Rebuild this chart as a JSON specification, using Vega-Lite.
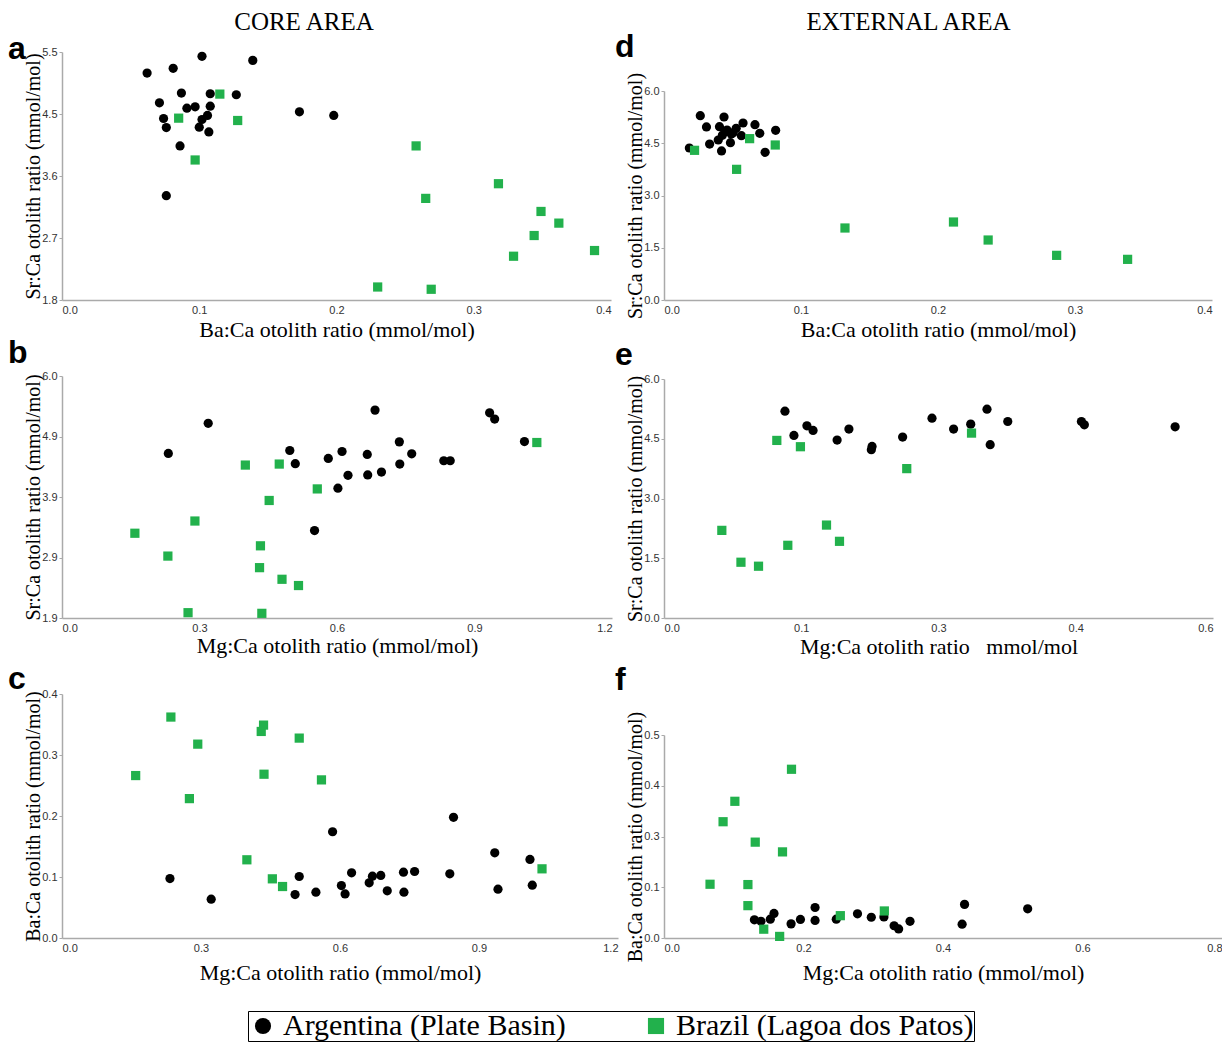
{
  "$schema": "https://vega.github.io/schema/vega-lite/v6.json",
  "usermeta": {"embedOptions": {"actions": false}},
  "padding": {"left": 8, "top": 10, "right": 0, "bottom": 0},
  "background": "white",
  "config": {
    "view": {"stroke": null},
    "axis": {
      "grid": false,
      "domainColor": "#aaaaaa",
      "domainWidth": 1.5,
      "tickColor": "#aaaaaa",
      "tickSize": 3,
      "labelFont": "Liberation Sans",
      "labelFontSize": 11,
      "labelColor": "#333333",
      "labelPadding": 2,
      "titleFont": "Liberation Serif",
      "titleFontWeight": "normal",
      "titleColor": "black"
    },
    "axisX": {"ticks": false, "labelPadding": 4, "titleFontSize": 22},
    "axisY": {"titlePadding": -2, "titleFontSize": 20},
    "title": {"font": "Liberation Sans", "fontSize": 32, "fontWeight": "bold", "color": "black", "anchor": "start", "frame": "group"},
    "legend": {
      "orient": "none",
      "legendX": 186,
      "legendY": 959,
      "direction": "horizontal",
      "title": null,
      "strokeColor": "black",
      "strokeWidth": 1,
      "padding": 0,
      "labelFont": "Liberation Serif",
      "labelFontSize": 30,
      "labelColor": "black",
      "labelLimit": 600,
      "labelOffset": 5,
      "symbolSize": 260,
      "symbolStrokeWidth": 0,
      "columnPadding": 75
    }
  },
  "datasets": {
    "a": [
      {"x":0.062,"y":5.186,"g":"Argentina (Plate Basin)"},{"x":0.081,"y":5.256,"g":"Argentina (Plate Basin)"},{"x":0.102,"y":5.435,"g":"Argentina (Plate Basin)"},{"x":0.139,"y":5.375,"g":"Argentina (Plate Basin)"},{"x":0.087,"y":4.887,"g":"Argentina (Plate Basin)"},{"x":0.108,"y":4.877,"g":"Argentina (Plate Basin)"},{"x":0.127,"y":4.862,"g":"Argentina (Plate Basin)"},{"x":0.071,"y":4.742,"g":"Argentina (Plate Basin)"},{"x":0.091,"y":4.662,"g":"Argentina (Plate Basin)"},{"x":0.097,"y":4.682,"g":"Argentina (Plate Basin)"},{"x":0.108,"y":4.692,"g":"Argentina (Plate Basin)"},{"x":0.074,"y":4.508,"g":"Argentina (Plate Basin)"},{"x":0.106,"y":4.553,"g":"Argentina (Plate Basin)"},{"x":0.102,"y":4.493,"g":"Argentina (Plate Basin)"},{"x":0.076,"y":4.373,"g":"Argentina (Plate Basin)"},{"x":0.100,"y":4.378,"g":"Argentina (Plate Basin)"},{"x":0.107,"y":4.308,"g":"Argentina (Plate Basin)"},{"x":0.086,"y":4.099,"g":"Argentina (Plate Basin)"},{"x":0.173,"y":4.607,"g":"Argentina (Plate Basin)"},{"x":0.198,"y":4.553,"g":"Argentina (Plate Basin)"},{"x":0.076,"y":3.356,"g":"Argentina (Plate Basin)"},
      {"x":0.085,"y":4.513,"g":"Brazil (Lagoa dos Patos)"},{"x":0.115,"y":4.872,"g":"Brazil (Lagoa dos Patos)"},{"x":0.128,"y":4.478,"g":"Brazil (Lagoa dos Patos)"},{"x":0.097,"y":3.889,"g":"Brazil (Lagoa dos Patos)"},{"x":0.258,"y":4.099,"g":"Brazil (Lagoa dos Patos)"},{"x":0.318,"y":3.535,"g":"Brazil (Lagoa dos Patos)"},{"x":0.265,"y":3.316,"g":"Brazil (Lagoa dos Patos)"},{"x":0.349,"y":3.121,"g":"Brazil (Lagoa dos Patos)"},{"x":0.362,"y":2.947,"g":"Brazil (Lagoa dos Patos)"},{"x":0.344,"y":2.762,"g":"Brazil (Lagoa dos Patos)"},{"x":0.388,"y":2.538,"g":"Brazil (Lagoa dos Patos)"},{"x":0.329,"y":2.453,"g":"Brazil (Lagoa dos Patos)"},{"x":0.230,"y":1.994,"g":"Brazil (Lagoa dos Patos)"},{"x":0.269,"y":1.960,"g":"Brazil (Lagoa dos Patos)"}
    ],
    "b": [
      {"x":0.232,"y":4.688,"g":"Argentina (Plate Basin)"},{"x":0.319,"y":5.198,"g":"Argentina (Plate Basin)"},{"x":0.683,"y":5.422,"g":"Argentina (Plate Basin)"},{"x":0.933,"y":5.377,"g":"Argentina (Plate Basin)"},{"x":0.944,"y":5.271,"g":"Argentina (Plate Basin)"},{"x":1.009,"y":4.889,"g":"Argentina (Plate Basin)"},{"x":0.736,"y":4.884,"g":"Argentina (Plate Basin)"},{"x":0.497,"y":4.738,"g":"Argentina (Plate Basin)"},{"x":0.611,"y":4.721,"g":"Argentina (Plate Basin)"},{"x":0.666,"y":4.671,"g":"Argentina (Plate Basin)"},{"x":0.763,"y":4.682,"g":"Argentina (Plate Basin)"},{"x":0.581,"y":4.603,"g":"Argentina (Plate Basin)"},{"x":0.509,"y":4.514,"g":"Argentina (Plate Basin)"},{"x":0.737,"y":4.508,"g":"Argentina (Plate Basin)"},{"x":0.833,"y":4.564,"g":"Argentina (Plate Basin)"},{"x":0.847,"y":4.564,"g":"Argentina (Plate Basin)"},{"x":0.624,"y":4.317,"g":"Argentina (Plate Basin)"},{"x":0.667,"y":4.323,"g":"Argentina (Plate Basin)"},{"x":0.697,"y":4.373,"g":"Argentina (Plate Basin)"},{"x":0.602,"y":4.099,"g":"Argentina (Plate Basin)"},{"x":0.551,"y":3.381,"g":"Argentina (Plate Basin)"},
      {"x":0.400,"y":4.491,"g":"Brazil (Lagoa dos Patos)"},{"x":0.474,"y":4.508,"g":"Brazil (Lagoa dos Patos)"},{"x":0.557,"y":4.087,"g":"Brazil (Lagoa dos Patos)"},{"x":0.452,"y":3.891,"g":"Brazil (Lagoa dos Patos)"},{"x":0.290,"y":3.543,"g":"Brazil (Lagoa dos Patos)"},{"x":0.159,"y":3.336,"g":"Brazil (Lagoa dos Patos)"},{"x":0.433,"y":3.123,"g":"Brazil (Lagoa dos Patos)"},{"x":0.231,"y":2.949,"g":"Brazil (Lagoa dos Patos)"},{"x":0.431,"y":2.753,"g":"Brazil (Lagoa dos Patos)"},{"x":0.480,"y":2.556,"g":"Brazil (Lagoa dos Patos)"},{"x":0.516,"y":2.450,"g":"Brazil (Lagoa dos Patos)"},{"x":0.275,"y":1.990,"g":"Brazil (Lagoa dos Patos)"},{"x":0.436,"y":1.979,"g":"Brazil (Lagoa dos Patos)"},{"x":1.036,"y":4.873,"g":"Brazil (Lagoa dos Patos)"}
    ],
    "c": [
      {"x":0.233,"y":0.0975,"g":"Argentina (Plate Basin)"},{"x":0.322,"y":0.0636,"g":"Argentina (Plate Basin)"},{"x":0.503,"y":0.0712,"g":"Argentina (Plate Basin)"},{"x":0.512,"y":0.1008,"g":"Argentina (Plate Basin)"},{"x":0.548,"y":0.0751,"g":"Argentina (Plate Basin)"},{"x":0.584,"y":0.1742,"g":"Argentina (Plate Basin)"},{"x":0.603,"y":0.086,"g":"Argentina (Plate Basin)"},{"x":0.611,"y":0.0723,"g":"Argentina (Plate Basin)"},{"x":0.625,"y":0.1068,"g":"Argentina (Plate Basin)"},{"x":0.663,"y":0.0904,"g":"Argentina (Plate Basin)"},{"x":0.670,"y":0.1014,"g":"Argentina (Plate Basin)"},{"x":0.688,"y":0.1025,"g":"Argentina (Plate Basin)"},{"x":0.702,"y":0.0773,"g":"Argentina (Plate Basin)"},{"x":0.737,"y":0.1079,"g":"Argentina (Plate Basin)"},{"x":0.738,"y":0.0751,"g":"Argentina (Plate Basin)"},{"x":0.761,"y":0.109,"g":"Argentina (Plate Basin)"},{"x":0.837,"y":0.1052,"g":"Argentina (Plate Basin)"},{"x":0.845,"y":0.1978,"g":"Argentina (Plate Basin)"},{"x":0.934,"y":0.1397,"g":"Argentina (Plate Basin)"},{"x":0.941,"y":0.08,"g":"Argentina (Plate Basin)"},{"x":1.010,"y":0.1288,"g":"Argentina (Plate Basin)"},{"x":1.015,"y":0.0866,"g":"Argentina (Plate Basin)"},
      {"x":0.159,"y":0.2663,"g":"Brazil (Lagoa dos Patos)"},{"x":0.235,"y":0.3622,"g":"Brazil (Lagoa dos Patos)"},{"x":0.293,"y":0.3178,"g":"Brazil (Lagoa dos Patos)"},{"x":0.275,"y":0.2285,"g":"Brazil (Lagoa dos Patos)"},{"x":0.430,"y":0.3386,"g":"Brazil (Lagoa dos Patos)"},{"x":0.435,"y":0.349,"g":"Brazil (Lagoa dos Patos)"},{"x":0.436,"y":0.2685,"g":"Brazil (Lagoa dos Patos)"},{"x":0.512,"y":0.3277,"g":"Brazil (Lagoa dos Patos)"},{"x":0.560,"y":0.2592,"g":"Brazil (Lagoa dos Patos)"},{"x":0.399,"y":0.1282,"g":"Brazil (Lagoa dos Patos)"},{"x":0.454,"y":0.097,"g":"Brazil (Lagoa dos Patos)"},{"x":0.476,"y":0.0844,"g":"Brazil (Lagoa dos Patos)"},{"x":1.036,"y":0.1134,"g":"Brazil (Lagoa dos Patos)"}
    ],
    "d": [
      {"x":0.0185,"y":4.364,"g":"Argentina (Plate Basin)"},{"x":0.0265,"y":5.292,"g":"Argentina (Plate Basin)"},{"x":0.031,"y":4.967,"g":"Argentina (Plate Basin)"},{"x":0.0333,"y":4.478,"g":"Argentina (Plate Basin)"},{"x":0.0405,"y":4.976,"g":"Argentina (Plate Basin)"},{"x":0.0438,"y":5.254,"g":"Argentina (Plate Basin)"},{"x":0.0396,"y":4.593,"g":"Argentina (Plate Basin)"},{"x":0.042,"y":4.278,"g":"Argentina (Plate Basin)"},{"x":0.0426,"y":4.727,"g":"Argentina (Plate Basin)"},{"x":0.0449,"y":4.842,"g":"Argentina (Plate Basin)"},{"x":0.0485,"y":4.517,"g":"Argentina (Plate Basin)"},{"x":0.0491,"y":4.766,"g":"Argentina (Plate Basin)"},{"x":0.0527,"y":4.928,"g":"Argentina (Plate Basin)"},{"x":0.0565,"y":4.718,"g":"Argentina (Plate Basin)"},{"x":0.0577,"y":5.081,"g":"Argentina (Plate Basin)"},{"x":0.0664,"y":5.033,"g":"Argentina (Plate Basin)"},{"x":0.0699,"y":4.785,"g":"Argentina (Plate Basin)"},{"x":0.0738,"y":4.239,"g":"Argentina (Plate Basin)"},{"x":0.0815,"y":4.871,"g":"Argentina (Plate Basin)"},{"x":0.046,"y":4.88,"g":"Argentina (Plate Basin)"},{"x":0.0505,"y":4.80,"g":"Argentina (Plate Basin)"},
      {"x":0.0223,"y":4.297,"g":"Brazil (Lagoa dos Patos)"},{"x":0.0625,"y":4.632,"g":"Brazil (Lagoa dos Patos)"},{"x":0.0812,"y":4.45,"g":"Brazil (Lagoa dos Patos)"},{"x":0.053,"y":3.751,"g":"Brazil (Lagoa dos Patos)"},{"x":0.1321,"y":2.067,"g":"Brazil (Lagoa dos Patos)"},{"x":0.2113,"y":2.239,"g":"Brazil (Lagoa dos Patos)"},{"x":0.2366,"y":1.722,"g":"Brazil (Lagoa dos Patos)"},{"x":0.2866,"y":1.282,"g":"Brazil (Lagoa dos Patos)"},{"x":0.3384,"y":1.167,"g":"Brazil (Lagoa dos Patos)"}
    ],
    "e": [
      {"x":0.1322,"y":5.192,"g":"Argentina (Plate Basin)"},{"x":0.142,"y":4.583,"g":"Argentina (Plate Basin)"},{"x":0.1562,"y":4.825,"g":"Argentina (Plate Basin)"},{"x":0.1629,"y":4.708,"g":"Argentina (Plate Basin)"},{"x":0.1892,"y":4.467,"g":"Argentina (Plate Basin)"},{"x":0.2021,"y":4.742,"g":"Argentina (Plate Basin)"},{"x":0.2266,"y":4.225,"g":"Argentina (Plate Basin)"},{"x":0.2274,"y":4.308,"g":"Argentina (Plate Basin)"},{"x":0.2608,"y":4.542,"g":"Argentina (Plate Basin)"},{"x":0.2929,"y":5.017,"g":"Argentina (Plate Basin)"},{"x":0.3165,"y":4.742,"g":"Argentina (Plate Basin)"},{"x":0.3352,"y":4.867,"g":"Argentina (Plate Basin)"},{"x":0.353,"y":5.242,"g":"Argentina (Plate Basin)"},{"x":0.3565,"y":4.35,"g":"Argentina (Plate Basin)"},{"x":0.3757,"y":4.933,"g":"Argentina (Plate Basin)"},{"x":0.4562,"y":4.933,"g":"Argentina (Plate Basin)"},{"x":0.4594,"y":4.85,"g":"Argentina (Plate Basin)"},{"x":0.5586,"y":4.8,"g":"Argentina (Plate Basin)"},
      {"x":0.1233,"y":4.458,"g":"Brazil (Lagoa dos Patos)"},{"x":0.1491,"y":4.3,"g":"Brazil (Lagoa dos Patos)"},{"x":0.2653,"y":3.75,"g":"Brazil (Lagoa dos Patos)"},{"x":0.3361,"y":4.642,"g":"Brazil (Lagoa dos Patos)"},{"x":0.0632,"y":2.2,"g":"Brazil (Lagoa dos Patos)"},{"x":0.0841,"y":1.4,"g":"Brazil (Lagoa dos Patos)"},{"x":0.1033,"y":1.3,"g":"Brazil (Lagoa dos Patos)"},{"x":0.1353,"y":1.825,"g":"Brazil (Lagoa dos Patos)"},{"x":0.1776,"y":2.333,"g":"Brazil (Lagoa dos Patos)"},{"x":0.1918,"y":1.925,"g":"Brazil (Lagoa dos Patos)"}
    ],
    "f": [
      {"x":0.1296,"y":0.0449,"g":"Argentina (Plate Basin)"},{"x":0.139,"y":0.041,"g":"Argentina (Plate Basin)"},{"x":0.1524,"y":0.0464,"g":"Argentina (Plate Basin)"},{"x":0.1577,"y":0.0604,"g":"Argentina (Plate Basin)"},{"x":0.1822,"y":0.0348,"g":"Argentina (Plate Basin)"},{"x":0.1956,"y":0.0457,"g":"Argentina (Plate Basin)"},{"x":0.2166,"y":0.0751,"g":"Argentina (Plate Basin)"},{"x":0.2166,"y":0.0433,"g":"Argentina (Plate Basin)"},{"x":0.247,"y":0.0464,"g":"Argentina (Plate Basin)"},{"x":0.2774,"y":0.0596,"g":"Argentina (Plate Basin)"},{"x":0.2972,"y":0.0511,"g":"Argentina (Plate Basin)"},{"x":0.3153,"y":0.0519,"g":"Argentina (Plate Basin)"},{"x":0.3299,"y":0.0302,"g":"Argentina (Plate Basin)"},{"x":0.3364,"y":0.0224,"g":"Argentina (Plate Basin)"},{"x":0.3527,"y":0.041,"g":"Argentina (Plate Basin)"},{"x":0.4274,"y":0.0341,"g":"Argentina (Plate Basin)"},{"x":0.4309,"y":0.0828,"g":"Argentina (Plate Basin)"},{"x":0.5214,"y":0.072,"g":"Argentina (Plate Basin)"},
      {"x":0.1828,"y":0.4156,"g":"Brazil (Lagoa dos Patos)"},{"x":0.1016,"y":0.3367,"g":"Brazil (Lagoa dos Patos)"},{"x":0.0847,"y":0.2864,"g":"Brazil (Lagoa dos Patos)"},{"x":0.1308,"y":0.2361,"g":"Brazil (Lagoa dos Patos)"},{"x":0.1699,"y":0.2121,"g":"Brazil (Lagoa dos Patos)"},{"x":0.066,"y":0.1324,"g":"Brazil (Lagoa dos Patos)"},{"x":0.1203,"y":0.1316,"g":"Brazil (Lagoa dos Patos)"},{"x":0.1203,"y":0.0797,"g":"Brazil (Lagoa dos Patos)"},{"x":0.2528,"y":0.055,"g":"Brazil (Lagoa dos Patos)"},{"x":0.3159,"y":0.0666,"g":"Brazil (Lagoa dos Patos)"},{"x":0.143,"y":0.0217,"g":"Brazil (Lagoa dos Patos)"},{"x":0.1658,"y":0.0039,"g":"Brazil (Lagoa dos Patos)"}
    ]
  },
  "spacing": -3,
  "hconcat": [
    {
      "title": {"text": "CORE AREA", "font": "Liberation Serif", "fontSize": 25, "fontWeight": "normal", "anchor": "middle", "frame": "bounds", "dx": -9, "offset": -2},
      "spacing": 76,
      "bounds": "flush",
      "vconcat": [
        {
          "data": {"name": "a"},
          "width": 549, "height": 248,
          "title": {"text": "a", "dx": -54, "offset": -45, "baseline": "alphabetic"},
          "mark": {"type": "point", "filled": true, "size": 85, "opacity": 1},
          "encoding": {
            "x": {"field": "x", "type": "quantitative", "scale": {"domain": [0, 0.4], "nice": false, "zero": false}, "axis": {"values": [0, 0.1, 0.2, 0.3, 0.4], "format": ".1f", "title": "Ba:Ca otolith ratio (mmol/mol)", "titlePadding": 4}},
            "y": {"field": "y", "type": "quantitative", "scale": {"domain": [1.8, 5.5], "nice": false, "zero": false}, "axis": {"values": [1.8, 2.725, 3.65, 4.575, 5.5], "labelExpr": "datum.value < 2 ? '1.8' : datum.value < 3 ? '2.7' : datum.value < 4 ? '3.6' : datum.value < 5 ? '4.5' : '5.5'", "title": "Sr:Ca otolith ratio (mmol/mol)"}},
            "color": {"field": "g", "type": "nominal", "scale": {"domain": ["Argentina (Plate Basin)", "Brazil (Lagoa dos Patos)"], "range": ["#000000", "#22b14c"]}},
            "shape": {"field": "g", "type": "nominal", "scale": {"domain": ["Argentina (Plate Basin)", "Brazil (Lagoa dos Patos)"], "range": ["circle", "square"]}}
          }
        },
        {
          "data": {"name": "b"},
          "width": 550, "height": 242,
          "title": {"text": "b", "dx": -54, "offset": -25, "baseline": "alphabetic"},
          "mark": {"type": "point", "filled": true, "size": 85, "opacity": 1},
          "encoding": {
            "x": {"field": "x", "type": "quantitative", "scale": {"domain": [0, 1.2], "nice": false, "zero": false}, "axis": {"values": [0, 0.3, 0.6, 0.9, 1.2], "format": ".1f", "title": "Mg:Ca otolith ratio (mmol/mol)", "titlePadding": 2}},
            "y": {"field": "y", "type": "quantitative", "scale": {"domain": [1.9, 6.0], "nice": false, "zero": false}, "axis": {"values": [1.9, 2.925, 3.95, 4.975, 6.0], "labelExpr": "datum.value < 2 ? '1.9' : datum.value < 3 ? '2.9' : datum.value < 4 ? '3.9' : datum.value < 5 ? '4.9' : '6.0'", "title": "Sr:Ca otolith ratio (mmol/mol)"}},
            "color": {"field": "g", "type": "nominal", "scale": {"domain": ["Argentina (Plate Basin)", "Brazil (Lagoa dos Patos)"], "range": ["#000000", "#22b14c"]}},
            "shape": {"field": "g", "type": "nominal", "scale": {"domain": ["Argentina (Plate Basin)", "Brazil (Lagoa dos Patos)"], "range": ["circle", "square"]}}
          }
        },
        {
          "data": {"name": "c"},
          "width": 556, "height": 244,
          "title": {"text": "c", "dx": -54, "offset": -33, "baseline": "alphabetic"},
          "mark": {"type": "point", "filled": true, "size": 85, "opacity": 1},
          "encoding": {
            "x": {"field": "x", "type": "quantitative", "scale": {"domain": [0, 1.2], "nice": false, "zero": false}, "axis": {"values": [0, 0.3, 0.6, 0.9, 1.2], "format": ".1f", "title": "Mg:Ca otolith ratio (mmol/mol)", "titlePadding": 9}},
            "y": {"field": "y", "type": "quantitative", "scale": {"domain": [0, 0.4], "nice": false, "zero": false}, "axis": {"values": [0, 0.1, 0.2, 0.3, 0.4], "format": ".1f", "title": "Ba:Ca otolith ratio (mmol/mol)"}},
            "color": {"field": "g", "type": "nominal", "scale": {"domain": ["Argentina (Plate Basin)", "Brazil (Lagoa dos Patos)"], "range": ["#000000", "#22b14c"]}},
            "shape": {"field": "g", "type": "nominal", "scale": {"domain": ["Argentina (Plate Basin)", "Brazil (Lagoa dos Patos)"], "range": ["circle", "square"]}}
          }
        }
      ]
    },
    {
      "title": {"text": "EXTERNAL AREA", "font": "Liberation Serif", "fontSize": 25, "fontWeight": "normal", "anchor": "middle", "frame": "bounds", "dx": -10, "offset": -4},
      "spacing": 76,
      "bounds": "flush",
      "vconcat": [
        {
          "data": {"name": "d"},
          "width": 548, "height": 248,
          "title": {"text": "d", "dx": -49, "offset": -37, "baseline": "alphabetic"},
          "mark": {"type": "point", "filled": true, "size": 85, "opacity": 1},
          "encoding": {
            "x": {"field": "x", "type": "quantitative", "scale": {"domain": [0, 0.4], "nice": false, "zero": false}, "axis": {"values": [0, 0.1, 0.2, 0.3, 0.4], "format": ".1f", "title": "Ba:Ca otolith ratio (mmol/mol)", "titlePadding": 4}},
            "y": {"field": "y", "type": "quantitative", "scale": {"domain": [0, 6], "nice": false, "zero": false, "range": [248, 39]}, "axis": {"values": [0, 1.5, 3, 4.5, 6], "format": ".1f", "title": "Sr:Ca otolith ratio (mmol/mol)"}},
            "color": {"field": "g", "type": "nominal", "scale": {"domain": ["Argentina (Plate Basin)", "Brazil (Lagoa dos Patos)"], "range": ["#000000", "#22b14c"]}},
            "shape": {"field": "g", "type": "nominal", "scale": {"domain": ["Argentina (Plate Basin)", "Brazil (Lagoa dos Patos)"], "range": ["circle", "square"]}}
          }
        },
        {
          "data": {"name": "e"},
          "width": 549, "height": 242,
          "title": {"text": "e", "dx": -49, "offset": -24, "baseline": "alphabetic"},
          "mark": {"type": "point", "filled": true, "size": 85, "opacity": 1},
          "encoding": {
            "x": {"field": "x", "type": "quantitative", "scale": {"domain": [0, 0.6], "nice": false, "zero": false}, "axis": {"values": [0, 0.15, 0.3, 0.45, 0.6], "labelExpr": "datum.value < 0.1 ? '0.0' : datum.value < 0.2 ? '0.1' : datum.value < 0.35 ? '0.3' : datum.value < 0.5 ? '0.4' : '0.6'", "title": "Mg:Ca otolith ratio\u00a0\u00a0 mmol/mol", "titlePadding": 3}},
            "y": {"field": "y", "type": "quantitative", "scale": {"domain": [0, 6], "nice": false, "zero": false, "range": [242, 3]}, "axis": {"values": [0, 1.5, 3, 4.5, 6], "format": ".1f", "title": "Sr:Ca otolith ratio (mmol/mol)"}},
            "color": {"field": "g", "type": "nominal", "scale": {"domain": ["Argentina (Plate Basin)", "Brazil (Lagoa dos Patos)"], "range": ["#000000", "#22b14c"]}},
            "shape": {"field": "g", "type": "nominal", "scale": {"domain": ["Argentina (Plate Basin)", "Brazil (Lagoa dos Patos)"], "range": ["circle", "square"]}}
          }
        },
        {
          "data": {"name": "f"},
          "width": 558, "height": 244,
          "title": {"text": "f", "dx": -49, "offset": -28, "baseline": "alphabetic"},
          "mark": {"type": "point", "filled": true, "size": 85, "opacity": 1},
          "encoding": {
            "x": {"field": "x", "type": "quantitative", "scale": {"domain": [0, 0.8], "nice": false, "zero": false}, "axis": {"values": [0, 0.2, 0.4, 0.6, 0.8], "format": ".1f", "title": "Mg:Ca otolith ratio (mmol/mol)", "titlePadding": 9}},
            "y": {"field": "y", "type": "quantitative", "scale": {"domain": [0, 0.5], "nice": false, "zero": false, "range": [244, 41]}, "axis": {"values": [0, 0.125, 0.25, 0.375, 0.5], "labelExpr": "datum.value < 0.05 ? '0.0' : datum.value < 0.2 ? '0.1' : datum.value < 0.3 ? '0.3' : datum.value < 0.45 ? '0.4' : '0.5'", "title": "Ba:Ca otolith ratio (mmol/mol)"}},
            "color": {"field": "g", "type": "nominal", "scale": {"domain": ["Argentina (Plate Basin)", "Brazil (Lagoa dos Patos)"], "range": ["#000000", "#22b14c"]}},
            "shape": {"field": "g", "type": "nominal", "scale": {"domain": ["Argentina (Plate Basin)", "Brazil (Lagoa dos Patos)"], "range": ["circle", "square"]}}
          }
        }
      ]
    }
  ]
}
